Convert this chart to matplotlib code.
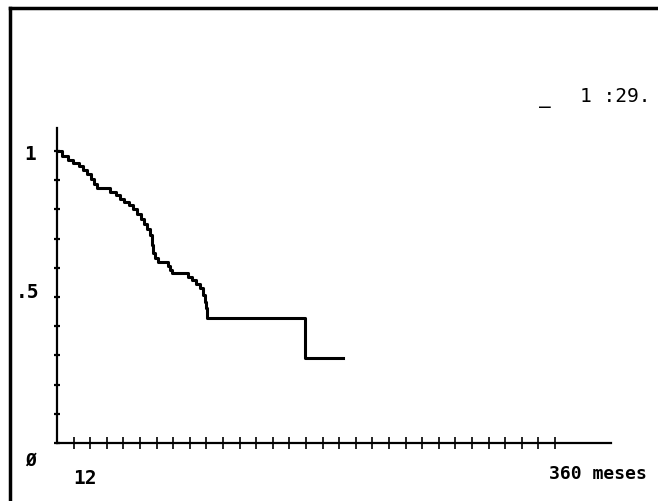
import numpy as np
import matplotlib
matplotlib.use("Agg")
from matplotlib import pyplot as plt
from matplotlib.lines import Line2D

# Kaplan-Meier curve: time (months) and survival after each step
meses = [0, 3.6, 8.0, 11.6, 15.9, 18.8, 21.7, 24.6, 26.8, 28.9,
         38.3, 42.7, 45.6, 48.4, 52.1, 55.0, 57.8, 60.7, 62.9, 65.1,
         67.2, 68.7, 69.4, 70.9, 73.0, 80.2, 81.7, 83.1, 94.7, 97.6,
         100.5, 103.4, 105.6, 107.0, 107.7, 108.5, 179.3, 206.8]
superv = [1.0, 0.983, 0.969, 0.959, 0.949, 0.935, 0.921, 0.904, 0.887, 0.873,
          0.860, 0.849, 0.836, 0.825, 0.815, 0.801, 0.784, 0.767, 0.750, 0.733,
          0.712, 0.678, 0.651, 0.634, 0.620, 0.606, 0.592, 0.582, 0.568, 0.558,
          0.545, 0.531, 0.507, 0.483, 0.462, 0.428, 0.291, 0.291]

xticks = np.arange(12, 361, 12)
yticks = np.arange(0, 1.01, 0.1)

W, H = 658, 501
fig = plt.figure(figsize=(W / 100, H / 100), dpi=100)

# axes box in pixels: x 0 -> 57, 360 -> 555; y 0 -> 443, 1 -> 151
px_x0, px_x1 = 57, 611
px_y0, px_y1 = 443, 128
ax = fig.add_axes([px_x0 / W, (H - px_y0) / H, (px_x1 - px_x0) / W, (px_y0 - px_y1) / H])
ax.set_xlim(0, (px_x1 - px_x0) / (498 / 360))
ax.set_ylim(0, (px_y0 - px_y1) / 292)

ax.plot(meses, superv, drawstyle='steps-post', color='black', lw=2.2)

for s in ['top', 'right']:
    ax.spines[s].set_visible(False)
for s in ['left', 'bottom']:
    ax.spines[s].set_linewidth(1.6)
    ax.spines[s].set_color('black')

ax.set_xticks(xticks)
ax.set_yticks(yticks)
ax.tick_params(axis='x', direction='inout', length=8, width=1.2, labelbottom=False)
ax.tick_params(axis='y', direction='inout', length=4, width=1.6, labelleft=False)

fnt = dict(family='DejaVu Sans Mono', weight='bold', color='black')
fig.text(30 / W, 1 - 155 / H, '1', ha='center', va='center', fontsize=14, **fnt)
fig.text(27 / W, 1 - 292 / H, '.5', ha='center', va='center', fontsize=14, **fnt)
fig.text(31 / W, 1 - 461 / H, 'Ø', ha='center', va='center', fontsize=13, **fnt)
fig.text(73 / W, 1 - 479 / H, '12', ha='left', va='center', fontsize=14, **fnt)
fig.text(549 / W, 1 - 474 / H, '360 meses', ha='left', va='center', fontsize=13, **fnt)

fig.text(545 / W, 1 - 108 / H, '–', ha='center', va='center', fontsize=14,
         family='DejaVu Sans Mono', color='black')
fig.text(580 / W, 1 - 96 / H, '1 :29.', ha='left', va='center', fontsize=14,
         family='DejaVu Sans Mono', color='black')

# outer frame: left and top edges
fig.add_artist(Line2D([10 / W, 10 / W], [0, 1 - 8 / H], transform=fig.transFigure,
                      color='black', lw=2.5))
fig.add_artist(Line2D([10 / W, 1], [1 - 8 / H, 1 - 8 / H], transform=fig.transFigure,
                      color='black', lw=2.5))

fig.savefig('out.png', dpi=100)
